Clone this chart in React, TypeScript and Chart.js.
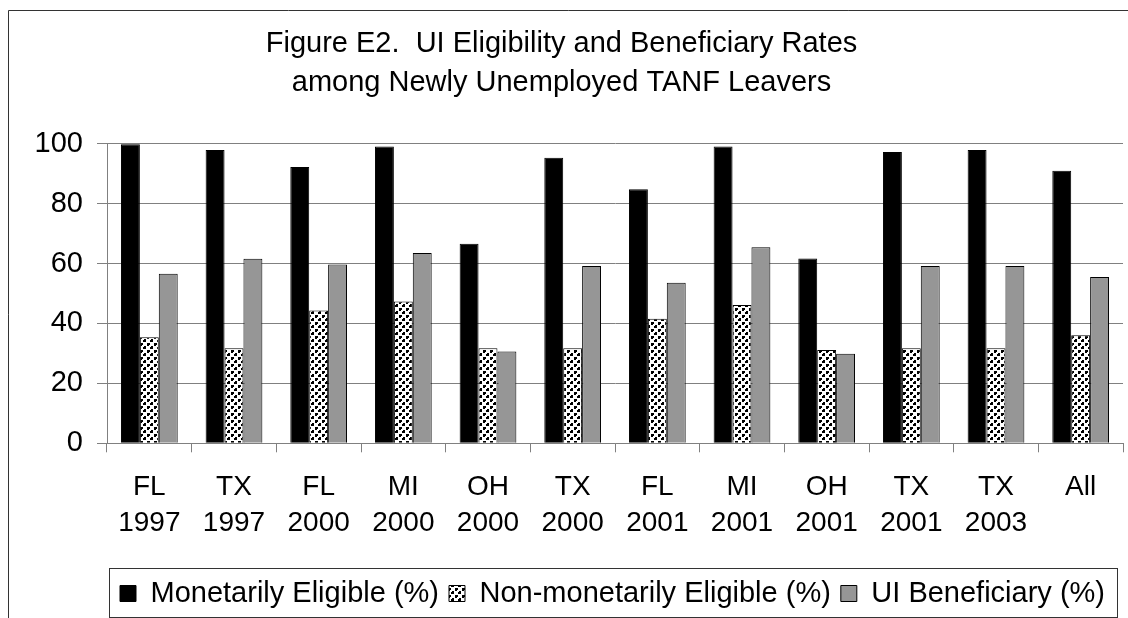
import React, { useEffect, useRef } from 'react';
import { Chart, registerables } from 'chart.js';

Chart.register(...registerables);

const states = ['FL', 'TX', 'FL', 'MI', 'OH', 'TX', 'FL', 'MI', 'OH', 'TX', 'TX', 'All'];
const years = ['1997', '1997', '2000', '2000', '2000', '2000', '2001', '2001', '2001', '2001', '2003', ''];

const monetarilyEligible = [99.8, 97.9, 92.2, 99.1, 66.6, 95.3, 84.8, 99.1, 61.7, 97.2, 97.9, 91.0];
const nonMonetarilyEligible = [35.4, 31.7, 44.3, 47.3, 31.7, 31.7, 41.6, 46.2, 31.1, 31.7, 31.7, 36.1];
const uiBeneficiary = [56.6, 61.6, 59.7, 63.5, 30.6, 59.2, 53.6, 65.4, 29.9, 59.2, 59.2, 55.5];

const seriesNames = ['Monetarily Eligible (%)', 'Non-monetarily Eligible (%)', 'UI Beneficiary (%)'];
const titleLines = ['Figure E2.  UI Eligibility and Beneficiary Rates', 'among Newly Unemployed TANF Leavers'];
const yMin = 0;
const yMax = 100;
const yStep = 20;

const FONT = "'Liberation Sans', Arial, Helvetica, sans-serif";
const LEGEND_PAD = 10;
const LEGEND_START_X = 120;

function makeDotPattern(): CanvasPattern | string {
  const c = document.createElement('canvas');
  c.width = 7;
  c.height = 7;
  const g = c.getContext('2d');
  if (!g) return '#ccc';
  g.fillStyle = '#fff';
  g.fillRect(0, 0, 7, 7);
  g.fillStyle = '#000';
  g.fillRect(0, 0, 3, 2);
  g.fillRect(0, 0, 2, 3);
  g.fillRect(4, 3, 2, 3);
  g.fillRect(3, 4, 3, 2);
  const p = g.createPattern(c, 'repeat');
  return p || '#ccc';
}

const framePlugin = {
  id: 'outerFrame',
  beforeDraw(chart: any) {
    const ctx = chart.ctx;
    ctx.save();
    ctx.strokeStyle = '#333';
    ctx.lineWidth = 1;
    ctx.beginPath();
    ctx.moveTo(8.5, chart.height);
    ctx.lineTo(8.5, 10.5);
    ctx.lineTo(chart.width, 10.5);
    ctx.stroke();
    ctx.restore();
  },
};

const legendShiftPlugin = {
  id: 'legendShift',
  afterLayout(chart: any) {
    const lg = chart.legend;
    if (!lg || !lg.lineWidths) return;
    const start = (lg.left + LEGEND_PAD + lg.right - lg.lineWidths[0]) / 2;
    const dx = LEGEND_START_X - start;
    lg.left += dx;
    lg.right += dx;
  },
};

const legendBoxPlugin = {
  id: 'legendBox',
  afterDraw(chart: any) {
    const lg = chart.legend;
    if (!lg || !lg.legendHitBoxes || !lg.legendHitBoxes.length) return;
    const hbs = lg.legendHitBoxes;
    let minL = Infinity;
    let maxR = -Infinity;
    const top = hbs[0].top;
    for (const h of hbs) {
      minL = Math.min(minL, h.left);
      maxR = Math.max(maxR, h.left + h.width);
    }
    const ctx = chart.ctx;
    ctx.save();
    ctx.strokeStyle = '#333';
    ctx.lineWidth = 1;
    const x1 = Math.round(minL - 11) + 0.5;
    const x2 = Math.round(maxR + 12) + 0.5;
    const y1 = Math.round(top - 11) + 0.5;
    const y2 = Math.round(top + 38) + 0.5;
    ctx.strokeRect(x1, y1, x2 - x1, y2 - y1);
    ctx.restore();
  },
};

export default function App() {
  const ref = useRef<HTMLCanvasElement | null>(null);

  useEffect(() => {
    if (!ref.current) return;
    document.body.style.margin = '0';
    const dots = makeDotPattern();
    const labels = states.map((s, i) => (years[i] ? [s, years[i]] : [s]));

    const chart = new Chart(ref.current, {
      type: 'bar',
      data: {
        labels,
        datasets: [
          {
            label: seriesNames[0],
            data: monetarilyEligible,
            backgroundColor: '#000000',
            borderColor: '#000000',
            borderWidth: 1,
          },
          {
            label: seriesNames[1],
            data: nonMonetarilyEligible,
            backgroundColor: dots as any,
            borderColor: '#000000',
            borderWidth: 1,
          },
          {
            label: seriesNames[2],
            data: uiBeneficiary,
            backgroundColor: '#969696',
            borderColor: '#000000',
            borderWidth: 1,
          },
        ],
      },
      options: {
        responsive: false,
        animation: false,
        devicePixelRatio: 1,
        layout: { padding: { left: 0, right: 5, top: 0, bottom: 0 } },
        datasets: {
          bar: {
            categoryPercentage: 0.67,
            barPercentage: 1.0,
            borderSkipped: 'start',
          },
        },
        plugins: {
          title: {
            display: true,
            text: titleLines,
            color: '#000',
            font: { family: FONT, size: 29, weight: 'normal', lineHeight: 39 / 29 },
            padding: { top: 24, bottom: 41.7 },
          },
          legend: {
            display: true,
            position: 'bottom',
            fullSize: false,
            labels: {
              color: '#000',
              font: { family: FONT, size: 29, weight: 'normal' },
              boxWidth: 16,
              boxHeight: 16,
              padding: LEGEND_PAD,
            },
          },
          tooltip: { enabled: false },
        },
        scales: {
          x: {
            type: 'category',
            grid: {
              offset: true,
              drawOnChartArea: false,
              drawTicks: true,
              tickLength: 9,
              color: '#808080',
              tickColor: '#808080',
            },
            border: { color: '#808080', width: 1 },
            ticks: {
              color: '#000',
              font: { family: FONT, size: 28, lineHeight: 36 / 28 },
              padding: 17,
              maxRotation: 0,
              minRotation: 0,
              autoSkip: false,
            },
            afterFit(scale: any) {
              scale.height = 125.7;
            },
          },
          y: {
            min: yMin,
            max: yMax,
            grid: {
              color: '#808080',
              tickColor: '#808080',
              drawTicks: true,
              tickLength: 10,
            },
            border: { color: '#808080', width: 1 },
            ticks: {
              stepSize: yStep,
              color: '#000',
              font: { family: FONT, size: 29 },
              padding: 14,
            },
            afterFit(scale: any) {
              scale.width = 107;
            },
          },
        },
      },
      plugins: [framePlugin, legendShiftPlugin, legendBoxPlugin],
    } as any);

    return () => {
      chart.destroy();
    };
  }, []);

  return (
    <div style={{ position: 'absolute', left: 0, top: 0, width: 1128, height: 618, background: '#fff' }}>
      <canvas ref={ref} width={1128} height={618} style={{ display: 'block', width: 1128, height: 618 }} />
    </div>
  );
}
